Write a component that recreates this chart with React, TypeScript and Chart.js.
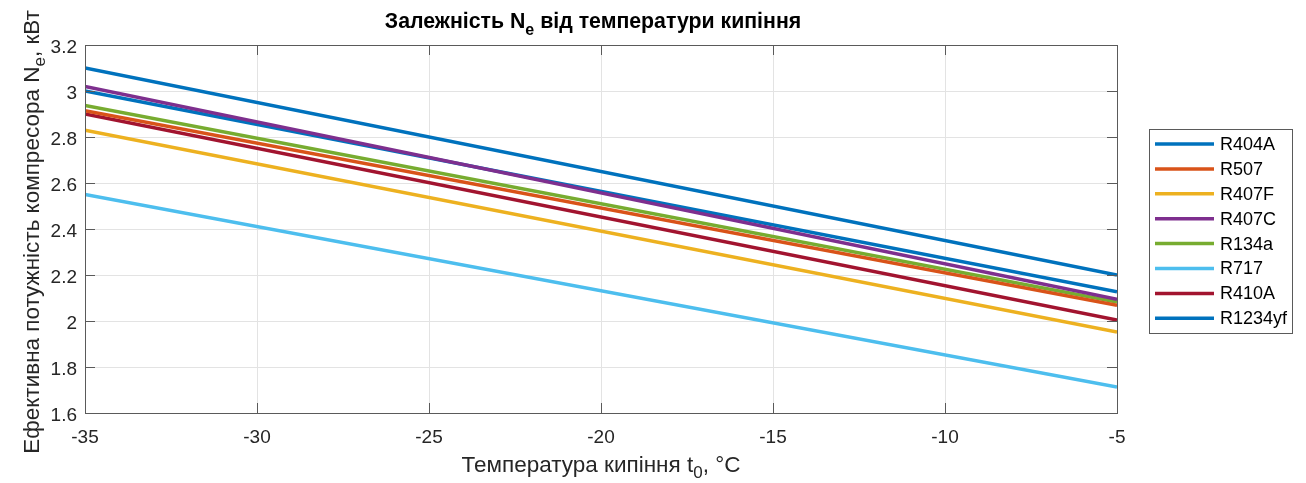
import React, { useEffect, useRef } from 'react';
import { Chart, registerables } from 'chart.js';
Chart.register(...registerables);

const temperatures = [-35, -5];
const seriesNames = ['R404A', 'R507', 'R407F', 'R407C', 'R134a', 'R717', 'R410A', 'R1234yf'];
const R404A = [3.1, 2.2];
const R507 = [2.914, 2.068];
const R407F = [2.83, 1.952];
const R407C = [3.02, 2.094];
const R134a = [2.937, 2.083];
const R717 = [2.55, 1.713];
const R410A = [2.9, 2.004];
const R1234yf = [3.0, 2.127];
const seriesValues = [R404A, R507, R407F, R407C, R134a, R717, R410A, R1234yf];
const seriesColors = ['#0072BD', '#D95319', '#EDB120', '#7E2F8E', '#77AC30', '#4DBEEE', '#A2142F', '#0072BD'];
const xTicks = [-35, -30, -25, -20, -15, -10, -5];
const yTicks = [1.6, 1.8, 2, 2.2, 2.4, 2.6, 2.8, 3, 3.2];

const FONT = '"Liberation Sans", Arial, sans-serif';
const TXT = '#262626';

type Part = { t: string; sub?: boolean };

function drawRich(ctx: CanvasRenderingContext2D, parts: Part[], cx: number, y: number, size: number, subSize: number, subDrop: number, weight: string) {
  const fontMain = `${weight} ${size}px ${FONT}`;
  const fontSub = `${weight} ${subSize}px ${FONT}`;
  let total = 0;
  const widths = parts.map((p) => {
    ctx.font = p.sub ? fontSub : fontMain;
    const w = ctx.measureText(p.t).width;
    total += w;
    return w;
  });
  let x = cx - total / 2;
  ctx.textAlign = 'left';
  ctx.textBaseline = 'alphabetic';
  parts.forEach((p, i) => {
    ctx.font = p.sub ? fontSub : fontMain;
    ctx.fillText(p.t, x, p.sub ? y + subDrop : y);
    x += widths[i];
  });
}

const decorPlugin = {
  id: 'decor',
  afterDraw(chart: any) {
    const { ctx, chartArea: a, scales } = chart;
    const xs = scales.x;
    const ys = scales.y;
    ctx.save();
    // box
    ctx.strokeStyle = '#5a5a5a';
    ctx.lineWidth = 1;
    ctx.strokeRect(Math.round(a.left) + 0.5, Math.round(a.top) + 0.5, Math.round(a.right - a.left), Math.round(a.bottom - a.top));
    // inner ticks
    ctx.beginPath();
    const tl = 10;
    xTicks.forEach((v) => {
      const px = Math.round(xs.getPixelForValue(v)) + 0.5;
      ctx.moveTo(px, a.bottom);
      ctx.lineTo(px, a.bottom - tl);
      ctx.moveTo(px, a.top);
      ctx.lineTo(px, a.top + tl);
    });
    yTicks.forEach((v) => {
      const py = Math.round(ys.getPixelForValue(v)) + 0.5;
      ctx.moveTo(a.left, py);
      ctx.lineTo(a.left + tl, py);
      ctx.moveTo(a.right, py);
      ctx.lineTo(a.right - tl, py);
    });
    ctx.stroke();

    ctx.fillStyle = '#000';
    // title
    drawRich(ctx, [{ t: 'Залежність N' }, { t: 'e', sub: true }, { t: ' від температури кипіння' }], 593, 28, 21.3, 16, 7, 'bold');
    // x label
    ctx.fillStyle = TXT;
    drawRich(ctx, [{ t: 'Температура кипіння t' }, { t: '0', sub: true }, { t: ', °C' }], 601, 472, 22.5, 17, 6, 'normal');
    // y label
    ctx.save();
    ctx.translate(39, 232);
    ctx.rotate(-Math.PI / 2);
    drawRich(ctx, [{ t: 'Ефективна потужність компресора N' }, { t: 'e', sub: true }, { t: ', кВт' }], 0, 0, 22.5, 17, 6, 'normal');
    ctx.restore();

    // legend
    const lx = 1149, ly = 129, lw = 143, lh = 204;
    ctx.fillStyle = '#fff';
    ctx.fillRect(lx, ly, lw, lh);
    ctx.strokeStyle = '#5a5a5a';
    ctx.lineWidth = 1;
    ctx.strokeRect(lx + 0.5, ly + 0.5, lw, lh);
    ctx.font = `18px ${FONT}`;
    ctx.textBaseline = 'middle';
    ctx.textAlign = 'left';
    chart.data.datasets.forEach((ds: any, i: number) => {
      const yy = ly + 15 + i * 24.9;
      ctx.strokeStyle = ds.borderColor;
      ctx.lineWidth = 3.5;
      ctx.beginPath();
      ctx.moveTo(lx + 6, yy);
      ctx.lineTo(lx + 65, yy);
      ctx.stroke();
      ctx.fillStyle = '#000';
      ctx.fillText(ds.label, lx + 71, yy + 1);
    });
    ctx.restore();
  },
};

export default function App() {
  const ref = useRef<HTMLCanvasElement>(null);
  useEffect(() => {
    document.body.style.margin = '0';
    const chart = new Chart(ref.current!, {
      type: 'line',
      data: {
        datasets: seriesNames.map((name, i) => ({
          label: name,
          data: temperatures.map((t, j) => ({ x: t, y: seriesValues[i][j] })),
          borderColor: seriesColors[i],
          backgroundColor: seriesColors[i],
          borderWidth: 3.5,
          pointRadius: 0,
          tension: 0,
        })),
      },
      options: {
        animation: false,
        responsive: false,
        layout: { padding: { top: 45, right: 189, left: 0, bottom: 0 } },
        plugins: { legend: { display: false }, title: { display: false }, tooltip: { enabled: false } },
        scales: {
          x: {
            type: 'linear',
            min: -35,
            max: -5,
            afterBuildTicks: (s: any) => { s.ticks = xTicks.map((v) => ({ value: v })); },
            afterFit: (s: any) => { s.height = 70; },
            grid: { color: '#e3e3e3', drawTicks: false },
            border: { display: false },
            ticks: { color: TXT, font: { family: FONT, size: 19 }, padding: 13, maxRotation: 0, callback: (v: any) => String(v) },
          },
          y: {
            type: 'linear',
            min: 1.6,
            max: 3.2,
            afterBuildTicks: (s: any) => { s.ticks = yTicks.map((v) => ({ value: v })); },
            afterFit: (s: any) => { s.width = 85; },
            grid: { color: '#e3e3e3', drawTicks: false },
            border: { display: false },
            ticks: { color: TXT, font: { family: FONT, size: 19 }, padding: 8, labelOffset: 3, callback: (v: any) => String(Math.round(Number(v) * 10) / 10) },
          },
        },
      },
      plugins: [decorPlugin],
    });
    return () => chart.destroy();
  }, []);
  return <canvas ref={ref} width={1306} height={483} style={{ display: 'block' }} />;
}
